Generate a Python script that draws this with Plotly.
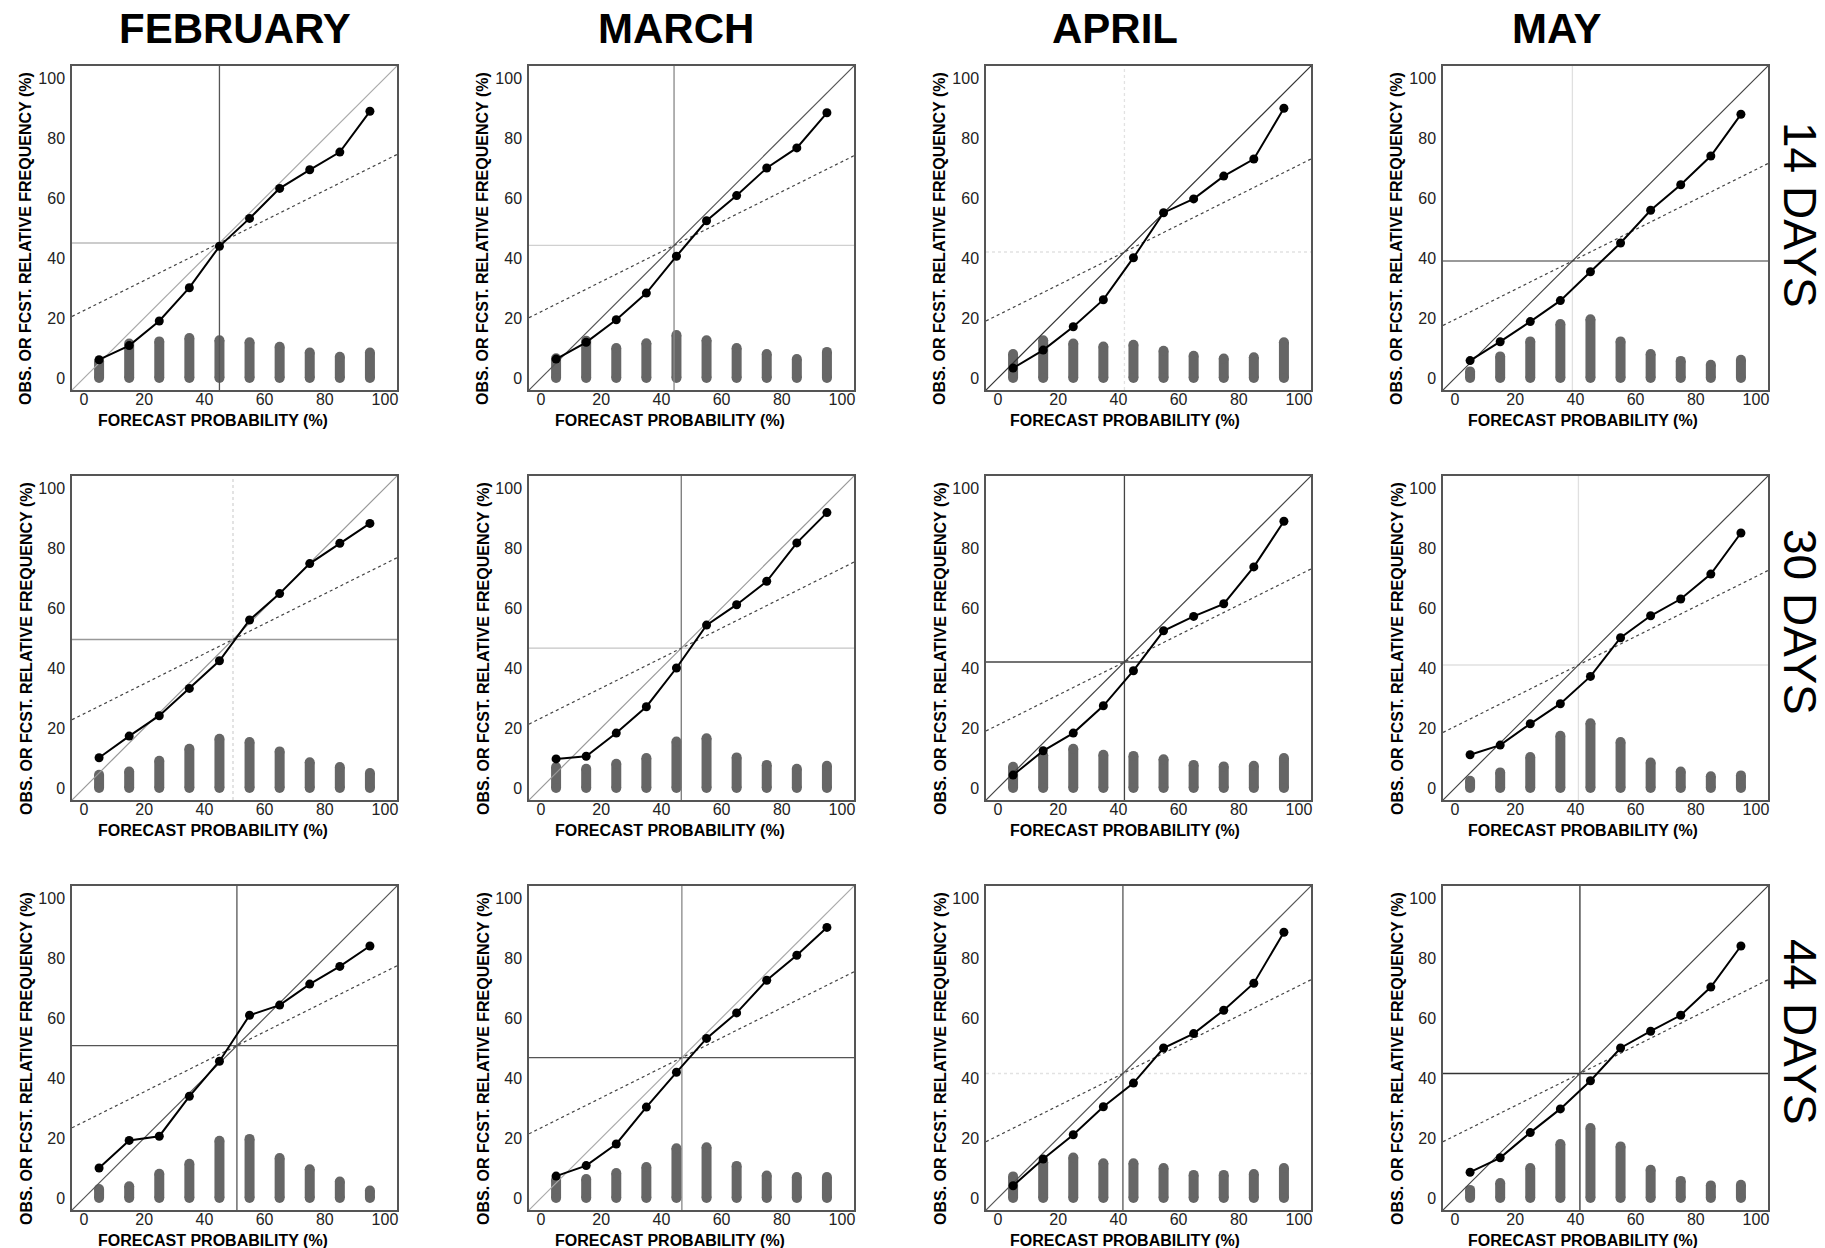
import plotly.graph_objects as go

# ---------------- data ----------------
months = ["FEBRUARY", "MARCH", "APRIL", "MAY"]
leads = ["14 DAYS", "30 DAYS", "44 DAYS"]
prob_bins = [5, 15, 25, 35, 45, 55, 65, 75, 85, 95]
tick_vals = [0, 20, 40, 60, 80, 100]
x_title = "FORECAST PROBABILITY (%)"
y_title = "OBS. OR FCST. RELATIVE FREQUENCY (%)"

# observed relative frequency (reliability curve), per month and lead
obs_feb_14 = [6.1, 10.8, 19.0, 30.1, 43.9, 53.2, 63.2, 69.4, 75.3, 88.9]
obs_mar_14 = [6.3, 11.9, 19.4, 28.3, 40.6, 52.4, 60.8, 70.0, 76.7, 88.4]
obs_apr_14 = [3.3, 9.3, 17.1, 26.1, 40.1, 55.1, 59.7, 67.3, 73.0, 89.9]
obs_may_14 = [5.8, 12.1, 18.8, 25.8, 35.4, 45.0, 55.9, 64.4, 74.0, 87.9]
obs_feb_30 = [10.1, 17.3, 24.1, 33.2, 42.4, 56.0, 64.8, 74.8, 81.6, 88.2]
obs_mar_30 = [9.7, 10.6, 18.3, 27.1, 40.0, 54.3, 61.1, 68.9, 81.7, 91.8]
obs_apr_30 = [4.3, 12.4, 18.3, 27.4, 39.1, 52.4, 57.2, 61.4, 73.7, 88.9]
obs_may_30 = [11.1, 14.3, 21.4, 28.1, 37.2, 50.1, 57.4, 63.0, 71.3, 85.0]
obs_feb_44 = [10.0, 19.2, 20.6, 33.9, 45.6, 60.9, 64.3, 71.3, 77.2, 84.0]
obs_mar_44 = [7.3, 10.8, 18.0, 30.3, 41.9, 53.2, 61.7, 72.6, 80.9, 90.2]
obs_apr_44 = [4.1, 13.0, 21.1, 30.4, 38.3, 50.0, 54.8, 62.6, 71.6, 88.6]
obs_may_44 = [8.6, 13.4, 21.8, 29.7, 39.1, 50.0, 55.6, 60.9, 70.3, 84.0]

# forecast relative frequency (histogram bars)
fc_feb_14 = [5.5, 11.5, 12.2, 13.3, 12.6, 11.9, 10.4, 8.5, 7.1, 8.5]
fc_mar_14 = [6.6, 12.4, 10.0, 11.6, 14.3, 12.6, 10.0, 8.0, 6.3, 8.7]
fc_apr_14 = [8.0, 12.6, 11.5, 10.5, 11.1, 9.1, 7.4, 6.5, 6.9, 11.9]
fc_may_14 = [2.2, 7.2, 12.2, 18.0, 19.6, 12.2, 8.0, 5.7, 4.4, 6.1]
fc_feb_30 = [4.4, 5.5, 9.1, 13.1, 16.4, 15.3, 12.2, 8.6, 7.0, 5.0]
fc_mar_30 = [7.0, 6.4, 8.1, 10.0, 15.5, 16.6, 10.2, 7.7, 6.4, 7.4]
fc_apr_30 = [7.1, 10.9, 13.1, 11.1, 10.7, 9.6, 7.7, 7.2, 7.4, 10.0]
fc_may_30 = [2.4, 5.2, 10.3, 17.4, 21.6, 15.3, 8.5, 5.5, 3.9, 4.2]
fc_feb_44 = [3.0, 3.9, 8.1, 11.4, 19.1, 19.7, 13.3, 9.6, 5.5, 2.5]
fc_mar_44 = [6.1, 6.3, 8.3, 10.3, 16.6, 16.9, 10.7, 7.5, 7.0, 7.0]
fc_apr_44 = [7.2, 11.9, 13.5, 11.6, 11.6, 10.0, 7.7, 7.7, 8.0, 10.0]
fc_may_44 = [2.7, 5.0, 10.0, 18.0, 23.3, 17.2, 9.4, 5.7, 4.2, 4.4]

# climatological frequency (%) per month, for each lead
clim_14 = [45.0, 44.2, 42.0, 39.0]
clim_30 = [49.5, 46.6, 42.0, 41.0]
clim_44 = [50.8, 46.8, 41.5, 41.5]

obs_rows = [
    [obs_feb_14, obs_mar_14, obs_apr_14, obs_may_14],
    [obs_feb_30, obs_mar_30, obs_apr_30, obs_may_30],
    [obs_feb_44, obs_mar_44, obs_apr_44, obs_may_44],
]
fc_rows = [
    [fc_feb_14, fc_mar_14, fc_apr_14, fc_may_14],
    [fc_feb_30, fc_mar_30, fc_apr_30, fc_may_30],
    [fc_feb_44, fc_mar_44, fc_apr_44, fc_may_44],
]
clim_rows = [clim_14, clim_30, clim_44]

# ---------------- styles / geometry ----------------
W, H = 1825, 1248
AX_MIN, AX_MAX = -4, 104
col_left = [72, 529, 986, 1443]
row_top = [66, 476, 886]
box_w, box_h = 325, 324

# per-panel line colours: (vertical clim, horizontal clim, diagonal, vdash, hdash)
line_styles = [
    [("#555", "#bbb", "#aaa", "solid", "solid"), ("#888", "#d0d0d0", "#555", "solid", "solid"),
     ("#e2e2e2", "#e2e2e2", "#333", "dot", "dot"), ("#e0e0e0", "#777", "#444", "solid", "solid")],
    [("#d5d5d5", "#999", "#999", "dot", "solid"), ("#777", "#c5c5c5", "#999", "solid", "solid"),
     ("#444", "#444", "#444", "solid", "solid"), ("#e0e0e0", "#e0e0e0", "#444", "solid", "solid")],
    [("#555", "#555", "#555", "solid", "solid"), ("#888", "#555", "#aaa", "solid", "solid"),
     ("#555", "#e2e2e2", "#555", "solid", "dot"), ("#333", "#333", "#444", "solid", "solid")],
]

FONT = "Liberation Sans, Arial, sans-serif"
BAR_COLOR = "#666666"

fig = go.Figure()
annotations = []

for r in range(3):
    for c in range(4):
        idx = r * 4 + c + 1
        xa = "x" if idx == 1 else f"x{idx}"
        ya = "y" if idx == 1 else f"y{idx}"
        obs = obs_rows[r][c]
        fc = fc_rows[r][c]
        clim = clim_rows[r][c]
        vcol, hcol, dcol, vdash, hdash = line_styles[r][c]

        # histogram bars with round caps
        bx, by = [], []
        for p, h in zip(prob_bins, fc):
            bx += [p, p, None]
            by += [0, h, None]
        fig.add_trace(go.Scatter(x=bx, y=by, mode="lines+markers", xaxis=xa, yaxis=ya,
                                 line=dict(color=BAR_COLOR, width=10),
                                 marker=dict(color=BAR_COLOR, size=10, line=dict(width=0)),
                                 hoverinfo="skip", showlegend=False))
        # climatology lines
        fig.add_trace(go.Scatter(x=[clim, clim], y=[AX_MIN, AX_MAX], mode="lines", xaxis=xa, yaxis=ya,
                                 line=dict(color=vcol, width=1.3, dash=vdash),
                                 hoverinfo="skip", showlegend=False))
        fig.add_trace(go.Scatter(x=[AX_MIN, AX_MAX], y=[clim, clim], mode="lines", xaxis=xa, yaxis=ya,
                                 line=dict(color=hcol, width=1.3, dash=hdash),
                                 hoverinfo="skip", showlegend=False))
        # perfect reliability diagonal
        fig.add_trace(go.Scatter(x=[AX_MIN, AX_MAX], y=[AX_MIN, AX_MAX], mode="lines", xaxis=xa, yaxis=ya,
                                 line=dict(color=dcol, width=1.2),
                                 hoverinfo="skip", showlegend=False))
        # no-skill line
        fig.add_trace(go.Scatter(x=[AX_MIN, AX_MAX], y=[(AX_MIN + clim) / 2, (AX_MAX + clim) / 2],
                                 mode="lines", xaxis=xa, yaxis=ya,
                                 line=dict(color="#444", width=1.2, dash="dot"),
                                 hoverinfo="skip", showlegend=False))
        # reliability curve
        fig.add_trace(go.Scatter(x=prob_bins, y=obs, mode="lines+markers", xaxis=xa, yaxis=ya,
                                 line=dict(color="black", width=2),
                                 marker=dict(color="black", size=9, line=dict(width=0)),
                                 showlegend=False))

        x0 = col_left[c] / W
        x1 = (col_left[c] + box_w) / W
        y1 = 1 - row_top[r] / H
        y0 = 1 - (row_top[r] + box_h) / H
        axis_common = dict(range=[AX_MIN, AX_MAX], tickvals=tick_vals, showgrid=False, zeroline=False,
                           showline=True, mirror=True, linecolor="#555", linewidth=1.5,
                           ticks="", tickfont=dict(family=FONT, size=16, color="#222"))
        fig.update_layout(**{
            ("xaxis" if idx == 1 else f"xaxis{idx}"): dict(domain=[x0, x1], anchor=ya,
                                                           ticklabelstandoff=-6, **axis_common),
            ("yaxis" if idx == 1 else f"yaxis{idx}"): dict(domain=[y0, y1], anchor=xa,
                                                           ticklabelstandoff=2, **axis_common),
        })

        # axis titles
        xt_x = col_left[c] + 141 - [0, 0, 2, 1][c]
        annotations.append(dict(text=x_title, x=xt_x / W, y=1 - (row_top[r] + 354) / H,
                                xref="paper", yref="paper", showarrow=False, xanchor="center", yanchor="middle",
                                font=dict(family=FONT, size=16, color="black", weight="bold")))
        annotations.append(dict(text=y_title, x=(col_left[c] - 46) / W, y=1 - (row_top[r] + 173) / H,
                                xref="paper", yref="paper", showarrow=False, xanchor="center", yanchor="middle",
                                textangle=-90,
                                font=dict(family=FONT, size=16, color="black", weight="bold")))

# column titles
title_x = [235, 676, 1115, 1556]
for m, tx in zip(months, title_x):
    annotations.append(dict(text=m, x=tx / W, y=1 - 28 / H, xref="paper", yref="paper", showarrow=False,
                            xanchor="center", yanchor="middle",
                            font=dict(family=FONT, size=42, color="black", weight="bold")))
# row labels
row_label_y = [215, 622, 1032]
for lab, ty in zip(leads, row_label_y):
    annotations.append(dict(text=lab, x=1800 / W, y=1 - ty / H, xref="paper", yref="paper", showarrow=False,
                            xanchor="center", yanchor="middle", textangle=90,
                            font=dict(family=FONT, size=46, color="black")))

fig.update_layout(width=W, height=H, margin=dict(l=0, r=0, t=0, b=0),
                  paper_bgcolor="white", plot_bgcolor="white",
                  annotations=annotations, showlegend=False)

fig.write_html("out.html", config={"displayModeBar": False},
               post_script="document.body.style.margin='0px';document.body.style.overflow='hidden';")
